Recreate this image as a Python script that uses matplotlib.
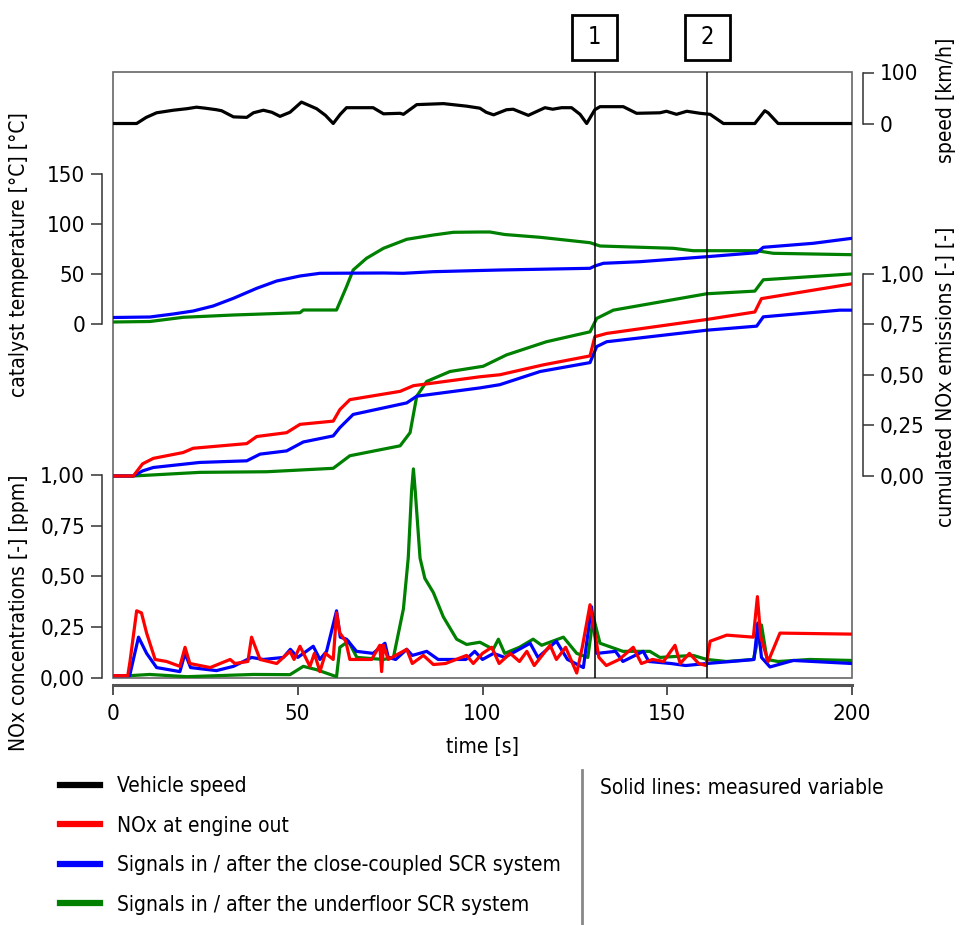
import matplotlib
matplotlib.use('Agg')
import matplotlib.pyplot as plt
import matplotlib.transforms as mtrans
from matplotlib.lines import Line2D
from matplotlib.patches import Rectangle

plt.rcParams['font.family'] = ['DejaVu Sans']
plt.rcParams['font.stretch'] = 'condensed'

# ---- data: (time [s], value) ----
speed = [(0, 0), (6.4, 0), (9, 12), (11.8, 21), (16.3, 26), (20, 29), (22.6, 32), (25, 30),
         (28, 27), (29.4, 25), (32.6, 13), (36.2, 12), (38, 21), (40.7, 26), (43, 22),
         (45.2, 14), (47.9, 22), (51, 42), (55.1, 29), (57.5, 16), (59.6, 0), (61.5, 18),
         (63.2, 31), (70.4, 31), (73.2, 19), (77.7, 20), (78.6, 18), (82.2, 37), (89.4, 39),
         (95.7, 34), (99.3, 30), (101, 22), (103, 17), (106.5, 27), (108.3, 28), (112.4, 16),
         (116.9, 31), (119, 28), (121.4, 31), (124.1, 31), (126.4, 18), (128.2, 0),
         (130.4, 27), (131.8, 33), (138.1, 33), (141.7, 20), (148, 21), (149.8, 24),
         (152.5, 18), (155.3, 24), (158.9, 20), (161.6, 18), (165.2, 0), (173.7, 0),
         (176.4, 25), (177.3, 21), (180, 0), (200, 0)]

temp_cc = [(0, 6.5), (10, 7), (16.3, 10), (21.7, 13), (27.1, 18), (32.6, 25.7), (38.9, 35.7),
           (44.3, 43), (50.6, 48), (56, 50.7), (73.2, 51), (78.6, 50.7), (86.6, 52.3),
           (99.3, 53.5), (104.7, 54), (129.1, 55.7), (130.4, 58), (132.7, 60.7), (142.6, 62.3),
           (160.7, 67.3), (174.2, 71.3), (176, 76.7), (189.5, 80.7), (200, 85.7)]

temp_uf = [(0, 2), (10, 2.5), (19, 6.7), (32.6, 9), (50.6, 11.3), (51.5, 14), (60.5, 14),
           (63.2, 37.3), (65, 54), (68.6, 65.7), (73.2, 75.7), (79.5, 84.7), (86.7, 89),
           (92.1, 91.7), (99.3, 92), (102, 92), (106, 89.5), (115.6, 86.7), (129.1, 81.3),
           (131.8, 78), (151.6, 75.7), (157, 73.3), (174.2, 73.3), (178.7, 70.7), (200, 69.3)]

cum_eo = [(0, 0), (5.5, 0), (8, 0.06), (10.9, 0.087), (19, 0.116), (21.7, 0.137), (36.2, 0.16),
          (38.9, 0.195), (47, 0.214), (50.6, 0.255), (59.6, 0.271), (61.4, 0.328),
          (64.1, 0.377), (77.7, 0.418), (81.3, 0.446), (99.3, 0.49), (104.7, 0.5),
          (116.5, 0.549), (129.1, 0.593), (130.4, 0.688), (133.6, 0.704), (160.7, 0.773),
          (173.7, 0.81), (175.5, 0.876), (200, 0.949)]

cum_cc = [(0, 0), (5.5, 0), (8, 0.025), (10.9, 0.042), (23.5, 0.067), (36.2, 0.075),
          (39.8, 0.108), (47, 0.124), (51.5, 0.168), (59.6, 0.198), (61.4, 0.239), (65, 0.304),
          (79.5, 0.361), (82.2, 0.394), (99.3, 0.435), (104.7, 0.451), (115.6, 0.516),
          (129.1, 0.56), (130.9, 0.639), (133.6, 0.663), (160.7, 0.72), (174.2, 0.74),
          (176, 0.786), (196.7, 0.819), (200, 0.819)]

cum_uf = [(0, 0), (5.5, 0), (23.5, 0.018), (41.6, 0.021), (59.6, 0.038), (64.1, 0.1),
          (77.7, 0.149), (80.4, 0.214), (82.2, 0.394), (84.9, 0.467), (91.2, 0.516),
          (100.2, 0.542), (106.5, 0.598), (117.3, 0.663), (129.1, 0.712), (130.9, 0.778),
          (135.4, 0.819), (160.7, 0.9), (173.7, 0.913), (176, 0.969), (200, 0.998)]

conc_eo = [(0, 0.01), (4, 0.01), (4.6, 0.08), (6.4, 0.33), (7.7, 0.32), (9.1, 0.22),
           (11.4, 0.09), (14.5, 0.08), (18.1, 0.056), (19.5, 0.15), (20.8, 0.07), (26.3, 0.05),
           (31.7, 0.09), (33, 0.07), (36.5, 0.08), (37.5, 0.2), (39.8, 0.09), (44.3, 0.07),
           (47.9, 0.13), (49, 0.09), (50.6, 0.155), (53.3, 0.056), (54.5, 0.12), (56, 0.03),
           (57.5, 0.12), (59.6, 0.09), (60.5, 0.32), (61.4, 0.22), (63, 0.18), (64.1, 0.09),
           (70, 0.09), (72.2, 0.16), (72.7, 0.03), (73.2, 0.16), (74.5, 0.09), (79.5, 0.14),
           (81, 0.07), (84, 0.11), (86.7, 0.065), (90, 0.07), (95.7, 0.11), (97.5, 0.07),
           (100, 0.12), (102.5, 0.15), (104.5, 0.07), (107.5, 0.12), (110, 0.08), (112, 0.13),
           (114, 0.06), (118.3, 0.16), (120, 0.09), (122.5, 0.15), (125.5, 0.023), (127, 0.15),
           (129.1, 0.36), (130.5, 0.21), (131.5, 0.1), (133.5, 0.06), (137, 0.09),
           (140.8, 0.15), (143, 0.07), (146, 0.09), (149, 0.08), (152.1, 0.16), (153.5, 0.07),
           (156, 0.12), (158.5, 0.07), (160.5, 0.06), (161.6, 0.18), (166.1, 0.21),
           (173.3, 0.2), (174.4, 0.40), (175.3, 0.2), (177.3, 0.08), (180.5, 0.22), (200, 0.215)]

conc_cc = [(0, 0.01), (4.5, 0.01), (6.9, 0.2), (9.1, 0.12), (11.8, 0.05), (18.1, 0.03),
           (19.5, 0.12), (21, 0.05), (28, 0.035), (32.6, 0.056), (37.5, 0.1), (40.7, 0.09),
           (46.1, 0.1), (48, 0.14), (50, 0.1), (54.2, 0.155), (56, 0.09), (57.8, 0.13),
           (60.5, 0.33), (61.5, 0.2), (63.2, 0.19), (65.9, 0.13), (70.4, 0.12), (73.6, 0.17),
           (74.5, 0.1), (76.5, 0.09), (79.5, 0.14), (81, 0.11), (84.9, 0.13), (88, 0.09),
           (95.5, 0.09), (97.9, 0.13), (100, 0.09), (103, 0.12), (106, 0.1), (112.9, 0.17),
           (115, 0.1), (120, 0.18), (123, 0.09), (127.3, 0.05), (129.5, 0.35), (131, 0.12),
           (136, 0.13), (138, 0.08), (143.5, 0.13), (145, 0.08), (151, 0.07), (155, 0.06),
           (160.7, 0.07), (170.6, 0.085), (173.5, 0.09), (174.5, 0.27), (175.5, 0.1),
           (177.8, 0.053), (184.1, 0.085), (200, 0.07)]

conc_uf = [(0, 0.01), (4.5, 0.01), (9.9, 0.016), (20, 0.005), (38, 0.016), (47.9, 0.015),
           (51.5, 0.056), (55, 0.04), (60.5, 0.005), (61.4, 0.15), (63.7, 0.18), (66, 0.1),
           (73.2, 0.09), (75.9, 0.1), (78.6, 0.34), (79.9, 0.59), (80.8, 0.92), (81.3, 1.03),
           (81.8, 0.92), (83.1, 0.59), (84.4, 0.49), (86.7, 0.42), (89.4, 0.3), (93, 0.19),
           (95.7, 0.164), (99.3, 0.175), (102.9, 0.14), (104.3, 0.19), (106, 0.12), (110, 0.15),
           (113.7, 0.19), (116, 0.16), (121.9, 0.2), (125.5, 0.12), (128.5, 0.1), (130, 0.3),
           (131.8, 0.17), (138, 0.13), (145.3, 0.13), (148, 0.1), (157, 0.11), (160.7, 0.09),
           (166, 0.08), (173.3, 0.09), (175.5, 0.26), (177, 0.09), (180, 0.08), (188.6, 0.09),
           (200, 0.085)]

events = [130.4, 160.8]
event_labels = ['1', '2']

legend_labels = ['Vehicle speed', 'NOx at engine out',
                 'Signals in / after the close-coupled SCR system',
                 'Signals in / after the underfloor SCR system']
C_SPEED, C_EO, C_CC, C_UF = 'black', '#ff0000', '#0000ff', '#008000'

# ---- layout (pixels) ----
W, H = 965, 925
X0, X1, Y0, Y1 = 113, 852, 72, 678
rect = [X0 / W, 1 - Y1 / H, (X1 - X0) / W, (Y1 - Y0) / H]


def ylims(y_zero, px_per_unit):
    return (-(Y1 - y_zero) / px_per_unit, (y_zero - Y0) / px_per_unit)


def unzip(pairs):
    return [p[0] for p in pairs], [p[1] for p in pairs]


def bracket(ax, side, ticks, labels):
    for s in ['top', 'bottom', 'left', 'right']:
        ax.spines[s].set_visible(False)
    ax.spines[side].set_visible(True)
    ax.spines[side].set_position(('outward', 8))
    ax.spines[side].set_bounds(ticks[0], ticks[-1])
    ax.spines[side].set_color('#333333')
    ax.spines[side].set_linewidth(1.1)
    ax.yaxis.set_ticks_position(side)
    ax.set_yticks(ticks, labels)
    ax.tick_params(axis='y', direction='out', length=8, width=1.1, color='#333333',
                   labelsize=16, pad=4)


fig = plt.figure(figsize=(W / 100, H / 100), dpi=100)

ax_t = fig.add_axes(rect, label='temp')
ax_n = fig.add_axes(rect, label='conc')
ax_c = fig.add_axes(rect, label='cum')
ax_v = fig.add_axes(rect, label='speed')

for ax in [ax_t, ax_n, ax_c, ax_v]:
    ax.set_facecolor('none')
    ax.set_xlim(0, 200)

ax_t.set_ylim(*ylims(324, 1.0))
ax_n.set_ylim(*ylims(677.7, 202.7))
ax_c.set_ylim(*ylims(476, 202.5))
ax_v.set_ylim(*ylims(123.5, 0.51))

bracket(ax_t, 'left', [0, 50, 100, 150], ['0', '50', '100', '150'])
bracket(ax_n, 'left', [0, 0.25, 0.5, 0.75, 1.0], ['0,00', '0,25', '0,50', '0,75', '1,00'])
bracket(ax_c, 'right', [0, 0.25, 0.5, 0.75, 1.0], ['0,00', '0,25', '0,50', '0,75', '1,00'])
bracket(ax_v, 'right', [0, 100], ['0', '100'])

# x axis below the frame
for ax in [ax_n, ax_c, ax_v]:
    ax.set_xticks([])
ax_t.spines['bottom'].set_visible(True)
ax_t.spines['bottom'].set_position(('outward', 5))
ax_t.spines['bottom'].set_bounds(0, 200)
ax_t.spines['bottom'].set_color('#555555')
ax_t.spines['bottom'].set_linewidth(2.2)
ax_t.set_xticks([0, 50, 100, 150, 200])
ax_t.tick_params(axis='x', direction='out', length=7, width=1.3, color='#444444',
                 labelsize=16, pad=7)
ax_t.set_xlabel('time [s]', fontsize=15, labelpad=9)

# frame
ax_t.add_patch(Rectangle((0, 0), 1, 1, transform=ax_t.transAxes, fill=False,
                         ec='#666666', lw=1.2, clip_on=False))

# data
t, v = unzip(speed)
ax_v.plot(t, v, color=C_SPEED, lw=2.3)
for pairs, col in [(temp_uf, C_UF), (temp_cc, C_CC)]:
    t, v = unzip(pairs)
    ax_t.plot(t, v, color=col, lw=2.3)
for pairs, col in [(cum_uf, C_UF), (cum_cc, C_CC), (cum_eo, C_EO)]:
    t, v = unzip(pairs)
    ax_c.plot(t, v, color=col, lw=2.3)
for pairs, col in [(conc_uf, C_UF), (conc_cc, C_CC), (conc_eo, C_EO)]:
    t, v = unzip(pairs)
    ax_n.plot(t, v, color=col, lw=2.3)

# event markers
blend = mtrans.blended_transform_factory(ax_v.transData, ax_v.transAxes)
box_w = 45 / (X1 - X0) * 200
box_h = 45 / (Y1 - Y0)
for ev, lab in zip(events, event_labels):
    ax_v.axvline(ev, color='black', lw=1.1)
    ax_v.add_patch(Rectangle((ev - box_w / 2, 1 + 12 / (Y1 - Y0)), box_w, box_h,
                             transform=blend, fill=False, ec='black', lw=2, clip_on=False))
    ax_v.text(ev, 1 + 12 / (Y1 - Y0) + box_h / 2, lab, transform=blend, ha='center',
              va='center', fontsize=17)

# axis titles
fig.text(19 / W, 1 - 255 / H, 'catalyst temperature [°C] [°C]', rotation=90,
         ha='center', va='center', fontsize=15)
fig.text(19 / W, 1 - 613 / H, 'NOx concentrations [-] [ppm]', rotation=90,
         ha='center', va='center', fontsize=15)
fig.text(946 / W, 1 - 100 / H, 'speed [km/h]', rotation=90,
         ha='center', va='center', fontsize=15)
fig.text(946 / W, 1 - 377 / H, 'cumulated NOx emissions [-] [-]', rotation=90,
         ha='center', va='center', fontsize=15)

# legend
handles = [Line2D([], [], color=c, lw=4.5) for c in [C_SPEED, C_EO, C_CC, C_UF]]
fig.legend(handles, legend_labels, loc='upper left', bbox_to_anchor=(60 / W, 1 - 776 / H),
           frameon=False, fontsize=15, handlelength=1.9, handletextpad=0.85,
           labelspacing=0.94, borderpad=0, borderaxespad=0)
fig.add_artist(Line2D([582 / W, 582 / W], [0, 1 - 770 / H], color='#888888', lw=2))
fig.text(600 / W, 1 - 788 / H, 'Solid lines: measured variable', ha='left', va='center',
         fontsize=15)

fig.savefig('out.png', dpi=100)
